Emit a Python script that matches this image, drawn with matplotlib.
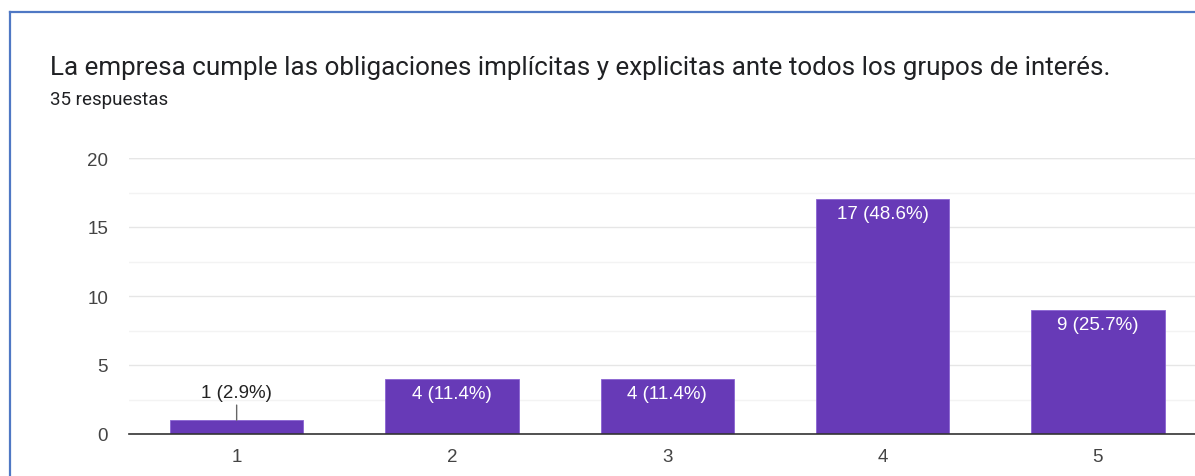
import matplotlib
matplotlib.use("Agg")
import matplotlib.pyplot as plt
from matplotlib.lines import Line2D
from matplotlib.ticker import MultipleLocator

# data
categories = ["1", "2", "3", "4", "5"]
counts = [1, 4, 4, 17, 9]
percents = [2.9, 11.4, 11.4, 48.6, 25.7]
title = "La empresa cumple las obligaciones implícitas y explicitas ante todos los grupos de interés."
subtitle = "35 respuestas"

W, H = 1195, 477
fig = plt.figure(figsize=(W / 100, H / 100), dpi=100)

# card border (top and left edges)
fig.add_artist(Line2D([9.5 / W, 1], [1 - 13 / H, 1 - 13 / H], color="#4f78c4", lw=1.6))
fig.add_artist(Line2D([9.5 / W, 9.5 / W], [0, 1 - 13 / H], color="#4f78c4", lw=1.6))

fig.text(50 / W, 1 - 68 / H, title, fontsize=18.75, family="Roboto",
         color="#202124", va="center", ha="left")
fig.text(50 / W, 1 - 100 / H, subtitle, fontsize=13.5, family="Roboto",
         color="#202124", va="center", ha="left")

ax = fig.add_axes([129 / W, 42 / H, (1205.5 - 129) / W, (435 - 159) / H])
x = list(range(len(categories)))
bars = ax.bar(x, counts, width=0.62, color="#673ab7", edgecolor="#8a63d2",
              linewidth=0.6, zorder=3)

ax.set_xlim(-0.5, 4.5)
ax.set_ylim(0, 20)
ax.yaxis.set_major_locator(MultipleLocator(5))
ax.yaxis.set_minor_locator(MultipleLocator(2.5))
ax.grid(axis="y", which="major", color="#e6e6e6", lw=1.0, zorder=0)
ax.grid(axis="y", which="minor", color="#f3f3f3", lw=1.0, zorder=0)
for s in ["top", "right", "left"]:
    ax.spines[s].set_visible(False)
ax.spines["bottom"].set_color("#333333")
ax.spines["bottom"].set_linewidth(1.2)
ax.spines["bottom"].set_zorder(4)
ax.axhline(20, color="#e6e6e6", lw=1.0, zorder=0)

ax.set_xticks(x)
ax.set_xticklabels(categories)
ax.tick_params(axis="both", which="both", length=0, labelsize=13.5,
               labelcolor="#444444")
ax.tick_params(axis="y", pad=15)
ax.tick_params(axis="x", pad=10)
for lbl in ax.get_xticklabels() + ax.get_yticklabels():
    lbl.set_family("Liberation Sans")

for i, (c, p) in enumerate(zip(counts, percents)):
    label = f"{c} ({p}%)"
    if c >= 3:
        ax.annotate(label, xy=(i, c), xytext=(0, -10.5), textcoords="offset points",
                    ha="center", va="center", color="white", fontsize=13.5,
                    family="Liberation Sans", zorder=5)
    else:
        ax.annotate(label, xy=(i, c), xytext=(0, 20), textcoords="offset points",
                    ha="center", va="center", color="#222222", fontsize=13.5,
                    family="Liberation Sans", zorder=5,
                    arrowprops=dict(arrowstyle="-", color="#666666", lw=1,
                                    shrinkA=1, shrinkB=0))

fig.savefig("out.png", dpi=100)
